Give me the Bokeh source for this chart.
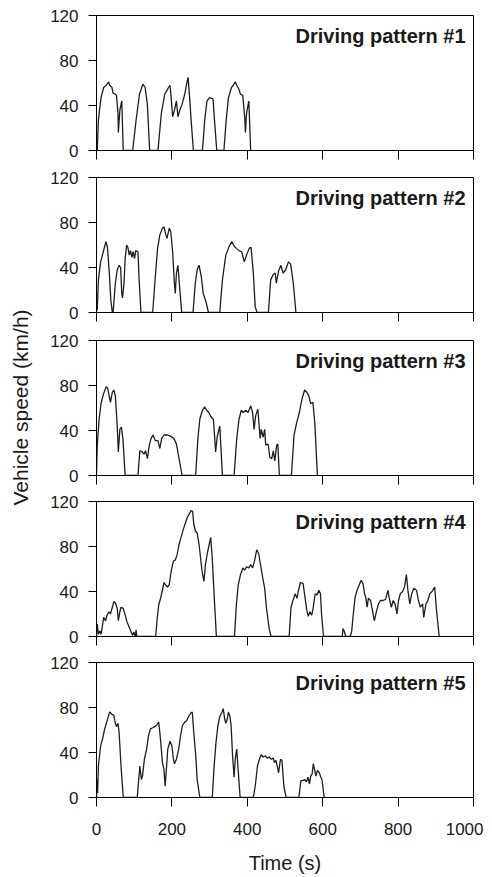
import math
from bokeh.plotting import figure
from bokeh.layouts import column, row
from bokeh.models import Range1d, FixedTicker, Label
from bokeh.embed import file_html
from bokeh.resources import INLINE

# ---------------- data ----------------
x_ticks = [0, 200, 400, 600, 800, 1000]
y_ticks = [0, 40, 80, 120]
titles = ["Driving pattern #1", "Driving pattern #2", "Driving pattern #3",
          "Driving pattern #4", "Driving pattern #5"]
x_title = "Time (s)"
y_title = "Vehicle speed (km/h)"

t1 = [0, 1, 2, 5, 12, 19, 26, 32, 35, 41, 44, 50, 53, 57, 58, 62, 67, 71,
      96, 105, 114, 123, 129, 135, 141,
      163, 172, 181, 186, 191, 195, 198, 202, 207, 212, 216, 221, 227, 234, 239, 243, 247, 251, 257,
      281, 287, 293, 300, 309, 313, 319,
      338, 344, 350, 358, 363, 368, 372, 377, 382, 388, 393, 395, 398, 404, 409]
v1 = [0, 5, 0, 27, 47, 56, 58, 61, 58, 56, 51, 50, 49, 33, 16, 36, 44, 0,
      0, 27, 50, 59, 56, 41, 0,
      0, 33, 50, 53, 56, 58, 47, 30, 36, 44, 30, 36, 41, 50, 59, 65, 47, 27, 0,
      0, 27, 44, 47, 46, 27, 0,
      0, 27, 47, 56, 58, 61, 58, 55, 50, 49, 30, 16, 33, 44, 0]

t2 = [0, 1, 2, 5, 11, 18, 25, 29, 34, 38, 42,
      44, 50, 55, 60, 64, 67, 69, 73, 76, 80, 83, 87, 90, 94, 97, 101, 104, 110, 113, 118,
      149, 156, 162, 168, 175, 179, 184, 187, 193, 197, 202, 206, 209, 212, 216, 219, 226,
      256, 262, 267, 272, 278, 283, 290, 297,
      327, 334, 343, 352, 359, 365, 371, 378, 385, 392, 398, 405, 410, 416, 421, 426,
      456, 462, 469, 474, 477, 483, 489, 495, 502, 509, 515, 522, 529]
v2 = [0, 8, 2, 29, 45, 54, 63, 58, 35, 11, 0,
      0, 26, 38, 42, 40, 17, 13, 26, 48, 60, 58, 51, 55, 49, 54, 48, 55, 54, 29, 0,
      0, 32, 57, 69, 75, 76, 69, 66, 75, 72, 54, 29, 17, 35, 42, 29, 0,
      0, 26, 38, 42, 32, 17, 10, 0,
      0, 29, 51, 59, 63, 59, 57, 55, 54, 45, 51, 57, 58, 35, 5, 0,
      0, 29, 34, 35, 26, 37, 42, 35, 38, 45, 43, 26, 0]

t3 = [0, 2, 7, 12, 19, 26, 30, 34, 37, 42, 46, 50, 55, 58, 62, 66, 70, 76,
      110, 115, 121, 126, 130, 135, 140, 145, 150, 156, 163, 168, 173, 179, 188, 196, 205, 212, 219, 227,
      263, 269, 274, 281, 287, 292, 298, 304, 310, 313, 316, 320, 327, 334,
      365, 372, 378, 384, 389, 396, 402, 409, 414, 418, 422, 428, 434, 437, 442, 446, 449, 455, 460,
      465, 469, 473, 478, 481, 485,
      517, 524, 531, 538, 545, 552, 558, 563, 568, 574, 579, 586]
v3 = [0, 27, 50, 64, 73, 79, 77, 70, 65, 74, 76, 71, 44, 21, 41, 43, 33, 0,
      0, 22, 21, 19, 22, 15, 27, 33, 36, 31, 31, 24, 33, 36, 36, 35, 33, 28, 15, 0,
      0, 33, 50, 58, 61, 58, 56, 52, 50, 36, 21, 34, 44, 0,
      0, 33, 50, 58, 56, 58, 56, 62, 56, 41, 53, 59, 33, 41, 34, 41, 27, 28, 16,
      15, 22, 13, 27, 28, 0,
      0, 36, 47, 56, 68, 76, 74, 71, 64, 65, 47, 0]

t4 = [0, 2, 5, 9, 12, 16, 19, 24, 28, 33, 37, 42, 46, 50, 55, 58, 62, 65, 71, 76, 81, 87, 92, 96,
      99, 103, 105, 107,
      157, 161, 165, 170, 174, 179, 183, 188, 193, 198, 204, 209, 214, 219, 225, 230, 235, 241,
      246, 251, 255, 258, 262, 267, 272, 276, 280, 285, 289, 294, 299, 303, 307, 312, 318,
      366, 371, 376, 382, 388, 393, 398, 404, 409, 414, 419, 425, 430, 435, 441, 446, 451, 458, 463,
      511, 516, 521, 527, 532, 535, 541, 548, 553, 558, 562, 566, 571, 575, 580, 585, 590, 594, 597, 602,
      652, 654, 658, 661, 673, 677, 682, 686, 691, 697, 702, 707, 711, 714, 718, 721, 727, 732, 737,
      743, 748, 753, 760, 767, 773, 776, 782, 787, 792, 797, 801, 806, 812, 817, 822, 826, 831, 836,
      842, 849, 854, 859, 865, 868, 874, 879, 884, 890, 897, 902, 909]
v4 = [0, 11, 2, 5, 2, 10, 17, 14, 19, 22, 20, 26, 31, 30, 25, 14, 22, 26, 25, 19, 13, 8, 4, 1,
      4, 0, 6, 0,
      0, 16, 28, 34, 40, 48, 46, 44, 46, 58, 67, 68, 73, 82, 89, 95, 100, 106,
      109, 112, 111, 100, 94, 92, 82, 70, 58, 49, 64, 74, 82, 88, 70, 37, 0,
      0, 28, 46, 55, 61, 59, 62, 61, 64, 61, 67, 77, 74, 64, 52, 43, 25, 7, 0,
      0, 26, 32, 38, 34, 40, 48, 47, 35, 23, 18, 22, 19, 26, 38, 37, 41, 38, 20, 0,
      0, 7, 4, 0, 0, 5, 23, 35, 41, 46, 50, 47, 38, 35, 26, 34, 32, 23, 14,
      23, 29, 32, 32, 33, 41, 35, 26, 32, 29, 20, 32, 38, 40, 44, 55, 41, 29, 38,
      43, 41, 32, 26, 29, 17, 29, 32, 38, 40, 44, 23, 0]

t5 = [0, 1, 3, 5, 11, 16, 21, 27, 32, 35, 41, 46, 50, 53, 57, 60, 65, 71,
      108, 112, 115, 119, 122, 127, 133, 138, 143, 149, 154, 159, 165, 168, 172, 175, 179, 182,
      186, 189, 195, 200, 204, 207, 212, 218, 223, 228, 234, 239, 244, 250, 254, 258, 264, 267, 274,
      307, 312, 317, 322, 327, 333, 336, 340, 343, 347, 350, 354, 357, 361, 365, 368, 372, 375, 381,
      416, 421, 427, 432, 437, 442, 448, 453, 458, 464, 469, 472, 476, 480, 483, 488, 492, 497, 503,
      537, 542, 547, 552, 557, 561, 565, 568, 572, 575, 579, 582, 586, 591, 595, 598, 604]
v5 = [0, 16, 4, 28, 46, 52, 60, 67, 73, 76, 74, 73, 66, 63, 66, 58, 28, 0,
      0, 16, 28, 16, 19, 34, 43, 55, 61, 62, 63, 64, 67, 58, 43, 31, 25, 10,
      28, 43, 50, 46, 34, 30, 34, 43, 55, 64, 67, 68, 72, 75, 76, 58, 34, 16, 0,
      0, 28, 49, 64, 72, 76, 79, 70, 66, 70, 76, 72, 64, 37, 18, 34, 43, 28, 0,
      0, 10, 28, 34, 38, 36, 37, 35, 36, 34, 35, 31, 33, 27, 22, 34, 33, 10, 0,
      0, 15, 15, 16, 14, 18, 12, 19, 21, 30, 24, 19, 24, 22, 18, 16, 0]

series = [(t1, v1), (t2, v2), (t3, v3), (t4, v4), (t5, v5)]

# ---------------- layout ----------------
FONT = "Liberation Sans"
TEXT_C = "#1a1a1a"
LABEL_W = 34          # strip holding the shared y-axis title
W = 449               # width of each panel figure
LEFT = 62
RIGHT = 10
FRAME_H = 135
tops = [15, 14, 14, 14, 14]
bottoms = [13, 14, 12, 12, 80]
heights = [tops[i] + FRAME_H + bottoms[i] for i in range(5)]
TOTAL_H = sum(heights)

figs = []
for i, (tt, vv) in enumerate(series):
    last = (i == len(series) - 1)
    p = figure(width=W, height=heights[i],
               x_range=Range1d(0, 1000), y_range=Range1d(0, 120),
               output_backend="svg", toolbar_location=None,
               min_border_left=LEFT, min_border_right=RIGHT,
               min_border_top=tops[i], min_border_bottom=bottoms[i])
    p.background_fill_color = "white"
    p.border_fill_color = "white"
    p.outline_line_color = "black"
    p.outline_line_width = 1
    p.xgrid.visible = False
    p.ygrid.visible = False

    p.line(tt, vv, line_color="#1e1e1e", line_width=1.3)

    for ax in (p.xaxis[0], p.yaxis[0]):
        ax.axis_line_color = "black"
        ax.major_tick_line_color = "black"
        ax.minor_tick_line_color = None
        ax.major_tick_in = 0
        ax.major_label_text_font = FONT
        ax.major_label_text_font_size = "17px"
        ax.major_label_text_color = TEXT_C
        ax.axis_label_text_font = FONT
        ax.axis_label_text_font_size = "20px"
        ax.axis_label_text_font_style = "normal"
        ax.axis_label_text_color = TEXT_C

    p.xaxis.ticker = FixedTicker(ticks=x_ticks)
    p.yaxis.ticker = FixedTicker(ticks=y_ticks)
    p.xaxis.major_tick_out = 9
    p.yaxis.major_tick_out = 8
    p.yaxis.major_label_standoff = 10

    if last:
        p.xaxis.major_label_standoff = 16
        p.xaxis.axis_label = x_title
        p.xaxis.axis_label_standoff = 14
    else:
        p.xaxis.major_label_overrides = {k: "" for k in x_ticks}
        p.xaxis.major_label_text_font_size = "0px"
        p.xaxis.major_label_standoff = 0

    p.add_layout(Label(x=979, y=102, text=titles[i], text_align="right",
                       text_baseline="alphabetic", text_font=FONT,
                       text_font_size="20px", text_font_style="bold",
                       text_color=TEXT_C))
    figs.append(p)

# strip on the left carrying the shared y-axis title (page pixel coordinates)
lab = figure(width=LABEL_W, height=TOTAL_H,
             x_range=Range1d(0, LABEL_W), y_range=Range1d(TOTAL_H, 0),
             output_backend="svg", toolbar_location=None,
             x_axis_type=None, y_axis_type=None,
             min_border_left=0, min_border_right=0,
             min_border_top=0, min_border_bottom=0)
lab.outline_line_color = None
lab.xgrid.visible = False
lab.ygrid.visible = False
lab.background_fill_color = "white"
lab.border_fill_color = "white"
lab.add_layout(Label(x=20, y=407, text=y_title, angle=math.pi / 2,
                     text_align="center", text_baseline="middle",
                     text_font=FONT, text_font_size="21px",
                     text_color=TEXT_C))

layout = row(lab, column(*figs))
open("out.html", "w").write(file_html(layout, INLINE))
